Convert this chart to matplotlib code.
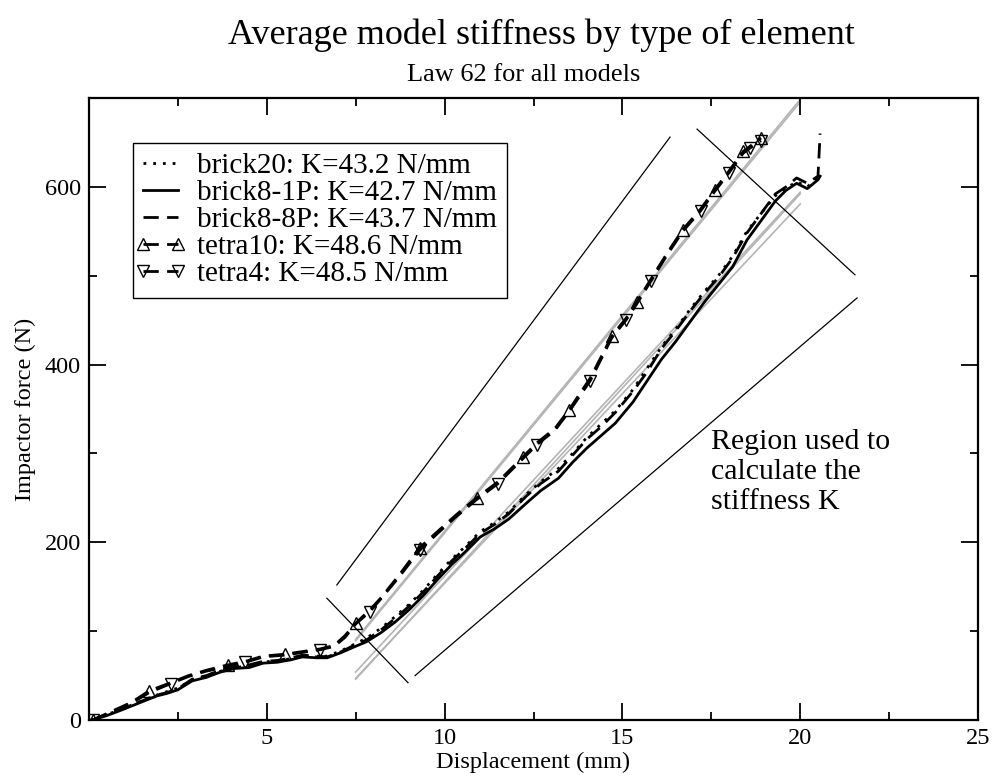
import numpy as np
import matplotlib
matplotlib.use("Agg")
import matplotlib.pyplot as plt
from matplotlib.ticker import MultipleLocator
from matplotlib.legend_handler import HandlerLine2D

plt.rcParams['font.family'] = ['Liberation Serif', 'DejaVu Serif']

# ---------------- data ----------------
brick_x = [0.1, 0.5, 0.9, 1.4, 1.9, 2.2, 2.5, 2.9, 3.3, 3.7, 4.1, 4.5, 4.9, 5.3, 5.7, 6.0,
           6.4, 6.7, 7.1, 7.5, 7.8, 8.2, 8.6, 9.0, 9.4, 9.8, 10.2, 10.6, 11.0, 11.4, 11.8,
           12.3, 12.7, 13.2, 13.6, 14.0, 14.4, 14.8, 15.3, 15.7, 16.1, 16.5, 16.9, 17.3,
           17.7, 18.1, 18.5, 18.9, 19.3, 19.6, 19.9, 20.2, 20.5, 20.56]
brick8_1P_y = [0, 5, 11, 19, 27, 30, 34, 44, 48, 54, 58, 59, 64, 65, 68, 71,
               70, 70, 76, 83, 88, 98, 110, 124, 140, 158, 175, 190, 206, 215, 226,
               244, 258, 272, 290, 306, 320, 334, 358, 382, 406, 426, 448, 470,
               490, 510, 540, 562, 584, 596, 604, 598, 608, 612]
brick20_y = [0, 6, 12, 20, 28, 32, 36, 45, 50, 55, 59, 61, 65, 67, 69, 72,
             71, 72, 78, 86, 92, 103, 116, 130, 146, 164, 181, 196, 212, 222, 234,
             254, 268, 283, 300, 318, 333, 348, 372, 396, 420, 440, 462, 482,
             500, 522, 550, 570, 590, 598, 606, 600, 610, 614]
brick8_8P_y = [0, 6, 12, 20, 28, 31, 35, 46, 50, 56, 60, 62, 66, 67, 70, 73,
               72, 71, 77, 85, 90, 101, 114, 128, 144, 162, 179, 194, 210, 220, 232,
               252, 266, 280, 298, 316, 330, 346, 370, 392, 418, 438, 460, 480,
               498, 520, 548, 570, 592, 600, 610, 604, 612, 660]

tetra_x = [0.1, 0.6, 1.2, 1.7, 2.3, 2.8, 3.3, 3.9, 4.4, 4.9, 5.5, 6.0, 6.5, 6.9, 7.2,
           7.5, 7.9, 8.2, 8.7, 9.3, 9.8, 10.3, 10.9, 11.5, 12.2, 12.6, 13.1, 13.5, 14.1,
           14.7, 15.1, 15.4, 15.8, 16.3, 16.7, 17.2, 17.6, 18.0, 18.4, 18.6, 18.9]
tetra10_y = [0, 9, 20, 33, 42, 50, 56, 62, 66, 72, 74, 77, 80, 84, 95,
             109, 124, 137, 162, 194, 212, 230, 250, 268, 296, 312, 328, 349, 385,
             432, 452, 470, 496, 528, 552, 575, 597, 618, 640, 646, 655]
tetra4_y = [0, 8, 19, 31, 41, 49, 55, 60, 65, 71, 73, 76, 79, 83, 93,
            108, 122, 136, 160, 191, 210, 228, 248, 266, 294, 310, 326, 347, 382,
            430, 450, 468, 494, 526, 550, 573, 595, 616, 638, 644, 652]
tetra10_marks = [0, 3, 7, 10, 15, 19, 22, 24, 27, 29, 31, 34, 36, 38, 40]
tetra4_marks = [0, 4, 8, 12, 16, 19, 23, 25, 28, 30, 32, 35, 37, 39, 40]

labels = ["brick20: K=43.2 N/mm", "brick8-1P: K=42.7 N/mm", "brick8-8P: K=43.7 N/mm",
          "tetra10: K=48.6 N/mm", "tetra4: K=48.5 N/mm"]

# fitted stiffness lines: slope K, zero crossing x0, range
fit_K = [43.2, 42.7, 43.7, 48.6, 48.5]
fit_x0 = [6.25, 6.40, 6.45, 5.63, 5.66]
fit_start = [7.5, 7.5, 7.5, 7.5, 7.5]
fit_end = [20.0, 20.0, 20.0, 20.0, 20.0]

# region boundary lines (x pairs, y pairs)
region_upper_x = [6.97, 16.34]
region_upper_y = [152, 656]
region_lower_x = [9.17, 21.6]
region_lower_y = [50, 475]
cross_low_x = [6.69, 8.97]
cross_low_y = [137, 42]
cross_high_x = [17.1, 21.54]
cross_high_y = [665, 501]

# ---------------- figure ----------------
fig = plt.figure(figsize=(9.93, 7.78), dpi=100)
ax = fig.add_axes([89/993, 58/778, 889/993, 622/778])

# fits (gray)
for K, x0, xs, xe in zip(fit_K, fit_x0, fit_start, fit_end):
    xx = np.array([xs, xe])
    ax.plot(xx, K * (xx - x0), color='#b4b4b4', lw=1.2, zorder=1)

# region lines
for xs, ys in [(region_upper_x, region_upper_y), (region_lower_x, region_lower_y),
               (cross_low_x, cross_low_y), (cross_high_x, cross_high_y)]:
    ax.plot(xs, ys, color='black', lw=0.9, zorder=2)

lw = 2.0
dash = (0, (5.5, 3))
ax.plot(brick_x, brick20_y, color='black', lw=lw, ls=(0, (1, 2.5)), label=labels[0], zorder=3)
ax.plot(brick_x, brick8_1P_y, color='black', lw=lw, ls='-', label=labels[1], zorder=3)
ax.plot(brick_x, brick8_8P_y, color='black', lw=lw, ls=dash, label=labels[2], zorder=3)
ax.plot(tetra_x, tetra10_y, color='black', lw=lw, ls=dash, marker='^', ms=9,
        mfc='none', mec='black', mew=1.0, markevery=tetra10_marks, label=labels[3], zorder=4)
ax.plot(tetra_x, tetra4_y, color='black', lw=lw, ls=dash, marker='v', ms=9,
        mfc='none', mec='black', mew=1.0, markevery=tetra4_marks, label=labels[4], zorder=4)

ax.set_xlim(0, 25)
ax.set_ylim(0, 700)
ax.set_xticks([5, 10, 15, 20, 25])
ax.xaxis.set_minor_locator(MultipleLocator(2.5))
ax.set_yticks([0, 200, 400, 600])
ax.yaxis.set_minor_locator(MultipleLocator(100))
ax.tick_params(which='both', direction='in', top=True, right=True, width=1.3,
               labelsize=17.5, pad=6)
ax.tick_params(which='major', length=12)
ax.tick_params(which='minor', length=6)
for s in ax.spines.values():
    s.set_linewidth(1.6)

ax.set_xlabel("Displacement (mm)", fontsize=17.5, labelpad=2)
ax.set_ylabel("Impactor force (N)", fontsize=17.5, labelpad=6)

fig.text(0.545, 0.955, "Average model stiffness by type of element", ha='center',
         va='center', fontsize=26)
fig.text(0.527, 0.903, "Law 62 for all models", ha='center', va='center', fontsize=19)

ax.text(17.5, 327, "Region used to\ncalculate the\nstiffness K", fontsize=21.5,
        ha='left', va='top', linespacing=1.2)

hm = {h: HandlerLine2D(marker_pad=0.0, numpoints=2) for h in ax.get_lines()[-5:]}
leg = ax.legend(loc='upper left', bbox_to_anchor=(0.0495, 0.928), borderaxespad=0,
                fontsize=21, handlelength=1.2, numpoints=2, fancybox=False,
                framealpha=1, edgecolor='black', labelspacing=0.02, borderpad=0.35,
                handletextpad=0.65, handler_map=hm)
leg.get_frame().set_linewidth(1.0)

fig.savefig("out.png", dpi=100)
